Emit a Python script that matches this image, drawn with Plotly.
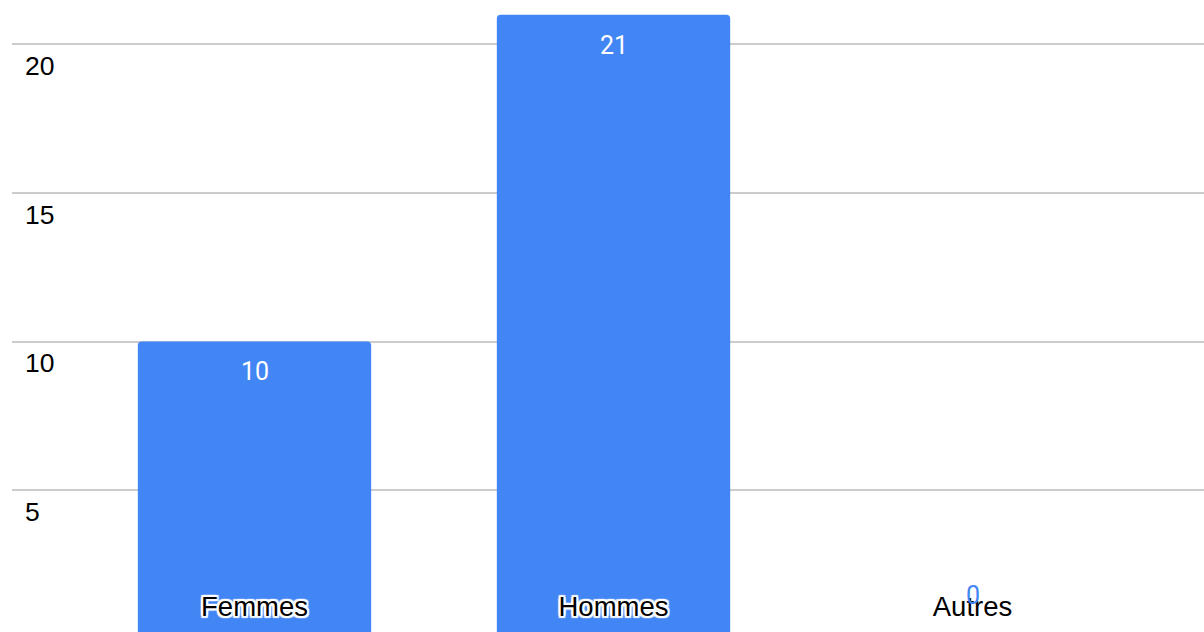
import plotly.graph_objects as go

categories = ["Femmes", "Hommes", "Autres"]
counts = [10, 21, 0]
y_ticks = [5, 10, 15, 20]

BAR_COLOR = "#4285F4"
W, H = 1204, 632
Y_RANGE = [0.219, 21.498]

fig = go.Figure(
    go.Bar(
        x=categories,
        y=counts,
        width=0.65,
        marker=dict(color=BAR_COLOR, line=dict(width=0), cornerradius=4),
        hoverinfo="skip",
    )
)

# value labels: inside the top of tall bars, just above the baseline for empty ones
for cat, v in zip(categories, counts):
    inside = v >= 2
    frac = (v - Y_RANGE[0]) / (Y_RANGE[1] - Y_RANGE[0])
    fig.add_annotation(
        x=cat, y=frac, xref="x", yref="paper",
        text=str(v), showarrow=False,
        yanchor="top" if inside else "bottom",
        yshift=-14 if inside else 27,
        font=dict(family="Roboto", size=25, color="white" if inside else BAR_COLOR),
    )

halo = ", ".join(
    f"{dx}px {dy}px 1px #fff"
    for dx, dy in [(2, 0), (-2, 0), (0, 2), (0, -2), (2, 2), (-2, -2), (2, -2), (-2, 2)]
)

fig.update_layout(
    width=W, height=H,
    margin=dict(l=12, r=0, t=0, b=0),
    paper_bgcolor="white", plot_bgcolor="white",
    showlegend=False,
    xaxis=dict(
        range=[-0.6755, 2.6448],
        showgrid=False, zeroline=False, showline=False,
        ticks="",
        ticklabelposition="inside",
        ticklabelstandoff=8,
        tickfont=dict(family="Liberation Sans, Arial", size=27.5, color="black", shadow=halo),
        layer="above traces",
        fixedrange=True,
    ),
    yaxis=dict(
        range=Y_RANGE,
        tickvals=y_ticks,
        ticktext=[str(t) for t in y_ticks],
        showgrid=True, gridcolor="#cccccc", gridwidth=2,
        zeroline=False, showline=False, ticks="",
        ticklabelposition="inside bottom",
        ticklabelstandoff=10,
        ticklabelshift=3,
        tickfont=dict(family="Liberation Sans, Arial", size=26.5, color="black"),
        layer="below traces",
        fixedrange=True,
    ),
)

fig.write_html("out.html", config={"displayModeBar": False})
